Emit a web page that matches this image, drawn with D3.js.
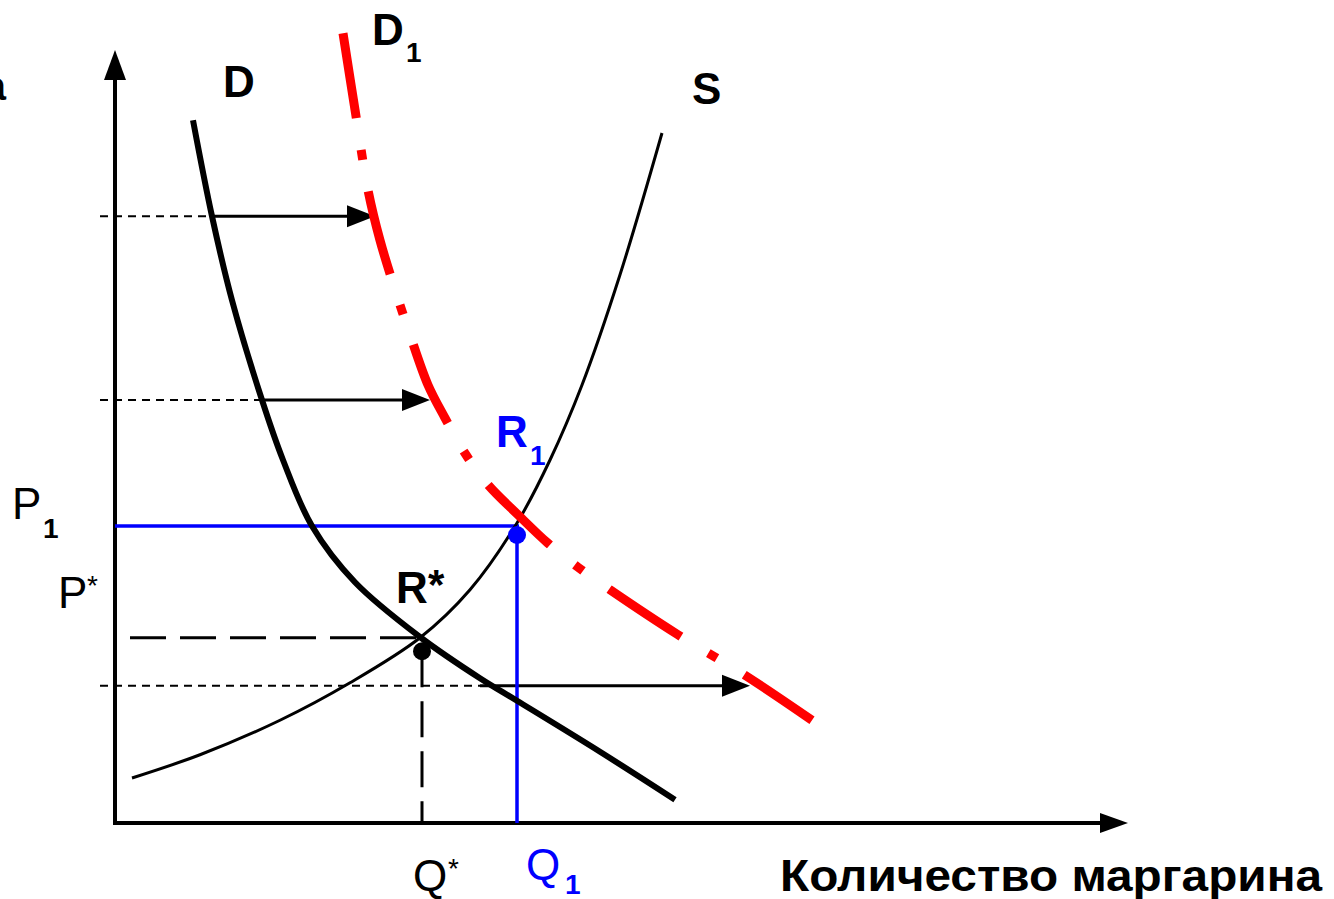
<!DOCTYPE html>
<html>
<head>
<meta charset="utf-8">
<title>Margarine market</title>
<script src="https://d3js.org/d3.v7.min.js"></script>
<style>
  body { margin: 0; background: #fff; }
  text { font-family: 'Liberation Sans', Arial, sans-serif; }
</style>
</head>
<body>
<script>
// curves as [quantity, price]
const demandD = [[0.78,9.37],[0.97,8.09],[1.17,6.97],[1.47,5.64],[1.68,4.84],[1.97,3.96],[2.40,3.21],
  [3.05,2.48],[3.65,1.93],[4.02,1.63],[4.85,0.95],[5.60,0.31]];
const supplyS = [[0.17,0.60],[0.85,0.91],[1.65,1.37],[2.35,1.87],[3.05,2.47],[3.55,3.11],[4.02,4.00],
  [4.35,4.84],[4.67,5.84],[5.05,7.31],[5.47,9.20]];
const demandD1 = [[2.28,10.53],[2.40,9.51],[2.53,8.44],[2.65,7.77],[2.77,7.24],[2.95,6.51],[3.13,5.84],
  [3.30,5.40],[3.50,4.93],[3.73,4.51],[4.03,4.11],[4.33,3.73],[4.63,3.41],[4.95,3.11],[5.63,2.51],
  [6.30,1.97],[6.97,1.37]];
// horizontal shift arrows: price level, start on D, end on D1
const shiftP = [8.09, 5.64, 1.83];
const shiftFrom = [0.97, 1.47, 3.65];
const shiftTo = [2.60, 3.15, 6.35];
// equilibria
const eqStar = {q: 3.07, p: 2.47, dotP: 2.29};
const eqOne = {q: 4.02, p: 3.96, dotP: 3.84};
const curveLabels = ["D", "D", "S"];

const W = 1334, H = 899;
const svg = d3.select("body").append("svg").attr("width", W).attr("height", H);

const x = d3.scaleLinear().domain([0, 10]).range([115, 1115]);
const y = d3.scaleLinear().domain([0, 10]).range([823, 73]);

// arrow helper: line up to the head base, then a filled triangle
function arrow(x1, y1, x2, y2, len, half, width, color) {
  const a = Math.atan2(y2 - y1, x2 - x1);
  const bx = x2 - len * Math.cos(a), by = y2 - len * Math.sin(a);
  svg.append("line").attr("x1", x1).attr("y1", y1).attr("x2", bx + Math.cos(a)).attr("y2", by + Math.sin(a))
    .attr("stroke", color).attr("stroke-width", width);
  const nx = -Math.sin(a) * half, ny = Math.cos(a) * half;
  svg.append("path").attr("d", `M${x2},${y2}L${bx + nx},${by + ny}L${bx - nx},${by - ny}Z`).attr("fill", color);
}

// axes
arrow(x(0), y(0) + 2, x(0), 50, 30, 11, 4, "#000");
arrow(x(0) - 2, y(0), 1128, y(0), 28, 10, 4, "#000");

const line = d3.line().x(d => x(d[0])).y(d => y(d[1])).curve(d3.curveCatmullRom.alpha(0.5));

// dotted guides + shift arrows
shiftP.forEach((p, i) => {
  svg.append("line").attr("x1", x(-0.15)).attr("x2", x(shiftFrom[i])).attr("y1", y(p)).attr("y2", y(p))
    .attr("stroke", "#000").attr("stroke-width", 2).attr("stroke-dasharray", "8,6");
  arrow(x(shiftFrom[i]), y(p), x(shiftTo[i]), y(p), 28, 11, 3, "#000");
});

// equilibrium guides
svg.append("line").attr("x1", x(0.15)).attr("x2", x(eqStar.q)).attr("y1", y(eqStar.p)).attr("y2", y(eqStar.p))
  .attr("stroke", "#000").attr("stroke-width", 3).attr("stroke-dasharray", "36,14");
svg.append("line").attr("x1", x(eqStar.q)).attr("x2", x(eqStar.q)).attr("y1", y(eqStar.dotP)).attr("y2", y(0))
  .attr("stroke", "#000").attr("stroke-width", 3).attr("stroke-dasharray", "36,14");
svg.append("line").attr("x1", x(0)).attr("x2", x(eqOne.q) + 2).attr("y1", y(eqOne.p)).attr("y2", y(eqOne.p))
  .attr("stroke", "#0000ff").attr("stroke-width", 3.5);
svg.append("line").attr("x1", x(eqOne.q)).attr("x2", x(eqOne.q)).attr("y1", y(eqOne.p)).attr("y2", y(0))
  .attr("stroke", "#0000ff").attr("stroke-width", 3.5);

// curves
svg.append("path").attr("d", line(supplyS)).attr("fill", "none").attr("stroke", "#000").attr("stroke-width", 3);
svg.append("path").attr("d", line(demandD)).attr("fill", "none").attr("stroke", "#000").attr("stroke-width", 6);
svg.append("path").attr("d", line(demandD1)).attr("fill", "none").attr("stroke", "#ff0000")
  .attr("stroke-width", 9).attr("stroke-dasharray", "86,32,10,32");

// points
svg.append("circle").attr("cx", x(eqStar.q)).attr("cy", y(eqStar.dotP)).attr("r", 9).attr("fill", "#000");
svg.append("circle").attr("cx", x(eqOne.q)).attr("cy", y(eqOne.dotP)).attr("r", 9).attr("fill", "#0000ff");

// labels
function label(px, py, main, sub, opts) {
  const t = svg.append("text").attr("x", px).attr("y", py).attr("fill", opts.color || "#000")
    .attr("font-size", opts.size || 44).attr("font-weight", opts.bold ? "bold" : "normal").text(main);
  if (sub) {
    svg.append("text").attr("x", px + opts.sx).attr("y", py + opts.sy).attr("fill", opts.color || "#000")
      .attr("font-size", opts.subSize || 28).attr("font-weight", opts.subBold ? "bold" : "normal").text(sub);
  }
  return t;
}
label(6, 100, "Цена", null, {bold: true, size: 40}).attr("text-anchor", "end");
label(223, 97, curveLabels[0], null, {bold: true});
label(372, 45, curveLabels[1], "1", {bold: true, subBold: true, sx: 34, sy: 17});
label(692, 104, curveLabels[2], null, {bold: true});
label(496, 447, "R", "1", {bold: true, subBold: true, color: "#0000ff", sx: 34, sy: 18});
label(396, 603, "R", "*", {bold: true, subBold: true, sx: 32, sy: -4, subSize: 42});
label(12, 519, "P", "1", {subBold: true, sx: 31, sy: 19});
label(58, 608, "P", "*", {sx: 29, sy: -13});
label(413, 891, "Q", "*", {sx: 35, sy: -13});
label(526, 880, "Q", "1", {color: "#0000ff", subBold: true, sx: 39, sy: 14});
svg.append("text").attr("x", 780).attr("y", 891).attr("font-size", 44).attr("font-weight", "bold")
  .attr("textLength", 542).attr("lengthAdjust", "spacingAndGlyphs").text("Количество маргарина");
</script>
</body>
</html>
